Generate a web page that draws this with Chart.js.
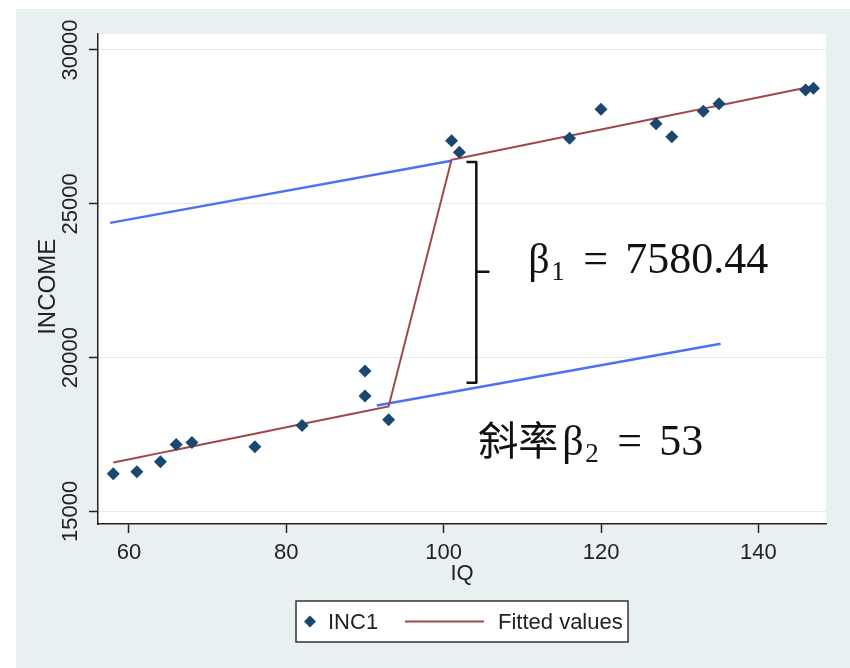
<!DOCTYPE html>
<html>
<head>
<meta charset="utf-8">
<script src="https://cdn.jsdelivr.net/npm/chart.js@4.4.1/dist/chart.umd.min.js"></script>
<style>
  html, body { margin: 0; padding: 0; background: #fff; }
  canvas { display: block; }
</style>
</head>
<body>
<canvas id="grafico" width="850" height="668"></canvas>
<script>
// datos
const iq = [58, 61, 64, 66, 68, 76, 82, 90, 90, 93, 101, 102, 116, 120, 127, 129, 133, 135, 146, 147];
const income = [16225, 16290, 16615, 17177, 17242, 17102, 17794, 19561, 18749, 17979,
                27053, 26676, 27131, 28073, 27606, 27183, 28008, 28255, 28700, 28756];
const fitted = [16590, 16746, 16902, 17006, 17110, 17526, 17838, 18254, 18254, 18410,
                26430, 26482, 27210, 27418, 27782, 27886, 28094, 28198, 28770, 28822];

// lineas azules de referencia
const refAltaX = [57.6, 101];
const refAltaY = [24380, 26400];
const refBajaX = [91.5, 135.2];
const refBajaY = [18444, 20448];

// llave entre las dos rectas
const llaveX = [102.9, 104.15, 104.15, 105.7, 104.15, 104.15, 102.9];
const llaveY = [26361, 26361, 22787, 22787, 22787, 19181, 19181];

const xTicks = [60, 80, 100, 120, 140];
const yTicks = [15000, 20000, 25000, 30000];

const anotaBeta1 = { x: 110.76, y: 22755, sub: '1', valor: '7580.44', prefijo: '' };
const anotaBeta2 = { x: 104.4, y: 16842, sub: '2', valor: '53', prefijo: '斜率' };

const NAVY = '#1a476f';
const MAROON = '#a0474d';
const AZUL = '#4a72f2';
const FUENTE = '"Liberation Sans", Arial, sans-serif';

const pares = (xs, ys) => xs.map((v, i) => ({ x: v, y: ys[i] }));

const decorado = {
    id: 'decorado',
    beforeDraw(chart) {
        const { ctx, chartArea: a } = chart;
        ctx.save();
        ctx.fillStyle = '#fff';
        ctx.fillRect(0, 0, chart.width, chart.height);
        ctx.fillStyle = '#e9f0f2';
        ctx.fillRect(16, 9, chart.width - 16, chart.height - 9);
        ctx.fillStyle = '#fff';
        ctx.fillRect(a.left, a.top, a.right - a.left, a.bottom - a.top);
        ctx.restore();
    },
    afterDraw(chart) {
        const { ctx, chartArea: a } = chart;
        const sx = chart.scales.x, sy = chart.scales.y;

        // etiquetas y titulo del eje y, girados
        ctx.save();
        ctx.font = '22px ' + FUENTE;
        ctx.fillStyle = '#222';
        ctx.textAlign = 'center';
        ctx.textBaseline = 'middle';
        sy.ticks.forEach(t => {
            ctx.save();
            ctx.translate(a.left - 27, sy.getPixelForValue(t.value));
            ctx.rotate(-Math.PI / 2);
            ctx.fillText(t.label, 0, 0);
            ctx.restore();
        });
        ctx.font = '24px ' + FUENTE;
        ctx.translate(a.left - 50, sy.getPixelForValue(22300));
        ctx.rotate(-Math.PI / 2);
        ctx.fillText(sy.options.title.text, 0, 0);
        ctx.restore();

        // anotaciones
        [anotaBeta1, anotaBeta2].forEach(an => {
            let px = sx.getPixelForValue(an.x);
            const py = sy.getPixelForValue(an.y);
            ctx.save();
            ctx.fillStyle = '#111';
            ctx.textAlign = 'left';
            ctx.textBaseline = 'alphabetic';
            if (an.prefijo) {
                ctx.font = '40px "Noto Sans CJK SC", sans-serif';
                ctx.fillText(an.prefijo, px, py);
                px += 84;
            }
            ctx.font = '42px "Liberation Serif", serif';
            ctx.fillText('β', px, py);
            ctx.font = '27px "Liberation Serif", serif';
            ctx.fillText(an.sub, px + 23, py + 7);
            ctx.font = '44px "Liberation Serif", serif';
            ctx.fillText('=', px + 55, py);
            ctx.fillText(an.valor, px + 97, py);
            ctx.restore();
        });

        // leyenda
        const ds = chart.data.datasets;
        const cx = (a.left + a.right) / 2;
        const top = a.bottom + 77;
        const ancho = 332, alto = 41;
        const izq = cx - ancho / 2;
        const my = top + alto / 2;
        ctx.save();
        ctx.fillStyle = '#fff';
        ctx.fillRect(izq, top, ancho, alto);
        ctx.strokeStyle = '#333';
        ctx.lineWidth = 1.5;
        ctx.strokeRect(izq, top, ancho, alto);
        ctx.fillStyle = NAVY;
        ctx.beginPath();
        ctx.moveTo(izq + 14 - 6, my);
        ctx.lineTo(izq + 14, my - 6);
        ctx.lineTo(izq + 14 + 6, my);
        ctx.lineTo(izq + 14, my + 6);
        ctx.closePath();
        ctx.fill();
        ctx.font = '22px ' + FUENTE;
        ctx.fillStyle = '#222';
        ctx.textBaseline = 'middle';
        ctx.fillText(ds[0].label, izq + 32, my + 1);
        ctx.strokeStyle = MAROON;
        ctx.lineWidth = 2;
        ctx.beginPath();
        ctx.moveTo(izq + 109, my);
        ctx.lineTo(izq + 188, my);
        ctx.stroke();
        ctx.fillText(ds[1].label, izq + 202, my + 1);
        ctx.restore();
    }
};

new Chart(document.getElementById('grafico'), {
    type: 'scatter',
    data: {
        datasets: [
            {
                label: 'INC1',
                data: pares(iq, income),
                pointStyle: 'rectRot',
                pointRadius: 6.5,
                backgroundColor: NAVY,
                borderColor: NAVY,
                borderWidth: 0
            },
            {
                label: 'Fitted values',
                data: pares(iq, fitted),
                showLine: true,
                borderColor: MAROON,
                borderWidth: 2,
                pointRadius: 0
            },
            {
                label: 'ref1',
                data: pares(refAltaX, refAltaY),
                showLine: true,
                borderColor: AZUL,
                borderWidth: 2.5,
                pointRadius: 0
            },
            {
                label: 'ref2',
                data: pares(refBajaX, refBajaY),
                showLine: true,
                borderColor: AZUL,
                borderWidth: 2.5,
                pointRadius: 0
            },
            {
                label: 'llave',
                data: pares(llaveX, llaveY),
                showLine: true,
                borderColor: '#111',
                borderWidth: 2.5,
                borderJoinStyle: 'round',
                pointRadius: 0
            }
        ]
    },
    options: {
        responsive: false,
        animation: false,
        layout: { padding: { left: 16, top: 34, right: 24, bottom: 81 } },
        plugins: { legend: { display: false }, tooltip: { enabled: false } },
        scales: {
            x: {
                type: 'linear',
                min: 56.06,
                max: 148.6,
                afterBuildTicks: s => { s.ticks = xTicks.map(v => ({ value: v })); },
                afterFit: s => { s.height = 63; },
                ticks: { font: { family: FUENTE, size: 22 }, color: '#222', padding: 7, maxRotation: 0 },
                grid: { drawOnChartArea: false, drawTicks: true, tickLength: 9, tickColor: '#222', tickWidth: 1.5 },
                border: { display: true, color: '#222', width: 1.5 },
                title: { display: true, text: 'IQ', font: { family: FUENTE, size: 22 }, color: '#222', padding: { top: 0, bottom: 0 } }
            },
            y: {
                type: 'linear',
                min: 14590,
                max: 30520,
                afterBuildTicks: s => { s.ticks = yTicks.map(v => ({ value: v })); },
                afterFit: s => { s.width = 82; },
                ticks: { display: false, callback: v => String(v) },
                grid: { color: '#e3ecef', lineWidth: 1, drawTicks: true, tickLength: 9, tickColor: '#222', tickWidth: 1.5 },
                border: { display: true, color: '#222', width: 1.5 },
                title: { display: false, text: 'INCOME' }
            }
        }
    },
    plugins: [decorado]
});
</script>
</body>
</html>
